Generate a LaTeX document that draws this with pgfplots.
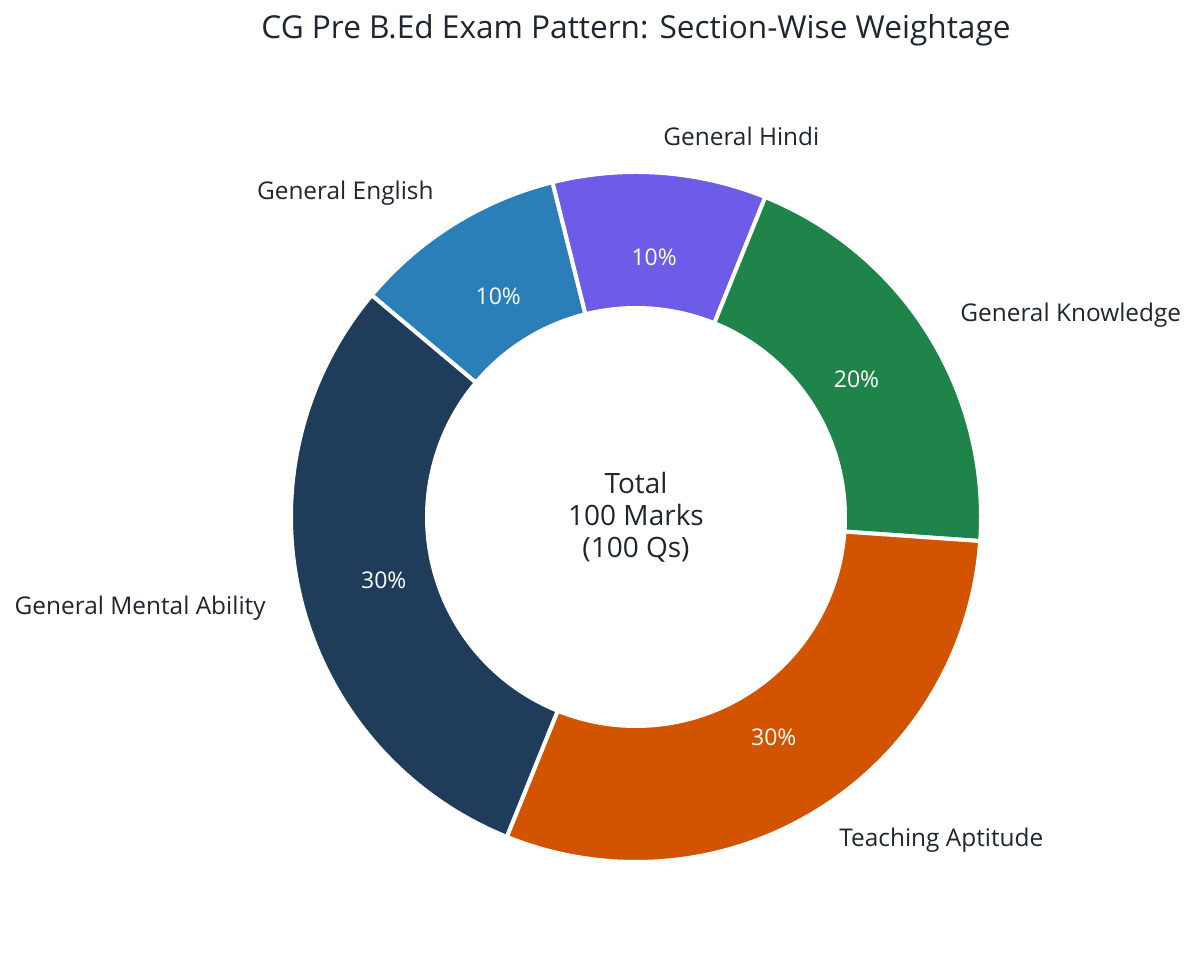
\documentclass[border=0pt]{standalone}
\usepackage{pgfplots}
\pgfplotsset{compat=1.18}
\usepackage{fontspec}
\setmainfont{Open Sans}
\definecolor{cgma}{HTML}{1F3D5A}
\definecolor{ceng}{HTML}{2A7FB8}
\definecolor{chin}{HTML}{6C5CE7}
\definecolor{cgk}{HTML}{1F844A}
\definecolor{cta}{HTML}{D35400}
\definecolor{ctxt}{HTML}{1F2630}

% one slice of the ring: colour, share before it (%), share (%)
\newcommand{\slice}[3]{%
  \fill[#1,draw=white,line width=2pt,line join=miter]
    (axis cs:636,451) ++({140-3.6*#2}:172.5pt)
    arc[start angle={140-3.6*#2},end angle={140-3.6*(#2+#3)},radius=172.5pt]
    -- ++({140-3.6*(#2+#3)}:-68pt)
    arc[start angle={140-3.6*(#2+#3)},end angle={140-3.6*#2},radius=104.5pt]
    -- cycle;
  \path (axis cs:636,451) ++({140-3.6*(#2+#3/2)}:130pt)
    node[white,font=\fontsize{11.5}{13}\selectfont]{#3\%};
}

\begin{document}
\begin{tikzpicture}
\begin{axis}[
  width=600pt,height=484pt,scale only axis,
  xmin=0,xmax=1200,ymin=0,ymax=968,
  hide axis,clip=false]
\path (axis cs:0,0) rectangle (axis cs:1200,968);
% General English 10, General Hindi 10, General Knowledge 20,
% Teaching Aptitude 30, General Mental Ability 30
\slice{ceng}{0}{10}
\slice{chin}{10}{10}
\slice{cgk}{20}{20}
\slice{cta}{40}{30}
\slice{cgma}{70}{30}

\node[ctxt,font=\fontsize{15.8}{18}\selectfont] at (axis cs:636,938) {CG Pre B.Ed Exam Pattern: Section-Wise Weightage};
\node[ctxt,align=center,font=\fontsize{14}{16}\selectfont] at (axis cs:636,451) {Total\\100 Marks\\(100 Qs)};

\begin{scope}[every node/.style={ctxt,inner sep=0pt,font=\fontsize{12.2}{14}\selectfont}]
\node[anchor=east] at (axis cs:434,775) {General English};
\node[anchor=west] at (axis cs:663,832) {General Hindi};
\node[anchor=west] at (axis cs:960,653) {General Knowledge};
\node[anchor=west] at (axis cs:839,128) {Teaching Aptitude};
\node[anchor=east] at (axis cs:266,360) {General Mental Ability};
\end{scope}
\end{axis}
\end{tikzpicture}
\end{document}
